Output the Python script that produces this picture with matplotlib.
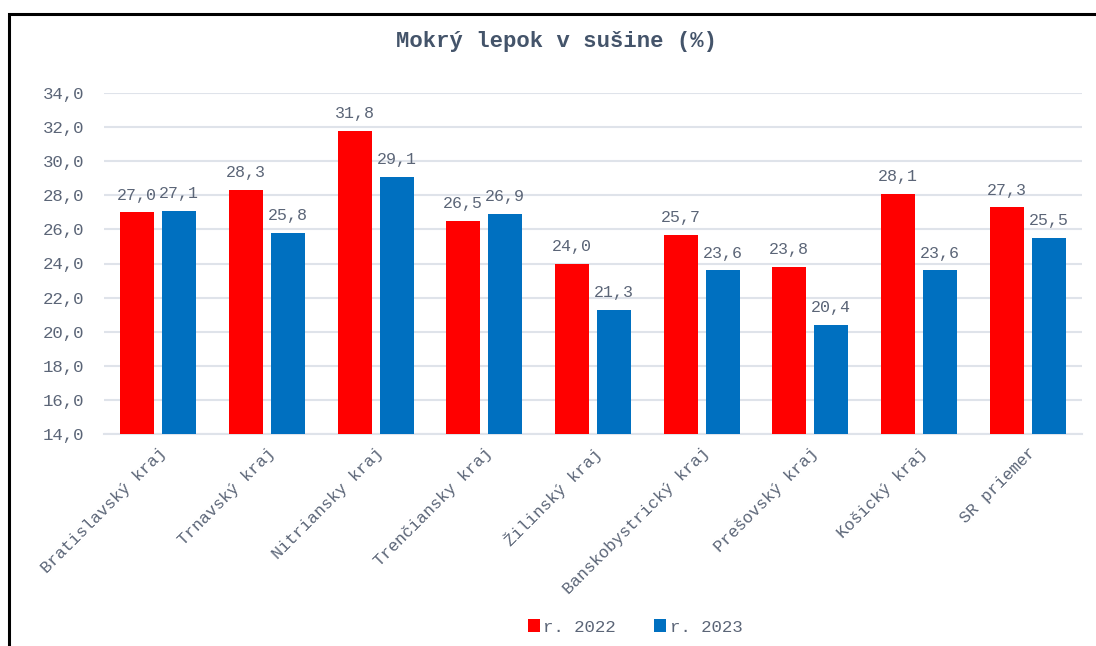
import matplotlib
matplotlib.use("Agg")
import matplotlib.pyplot as plt
import numpy as np
from matplotlib.lines import Line2D
from matplotlib.patches import Rectangle

categories = ["Bratislavský kraj", "Trnavský kraj", "Nitriansky kraj", "Trenčiansky kraj",
              "Žilinský kraj", "Banskobystrický kraj", "Prešovský kraj", "Košický kraj", "SR priemer"]
values_2022 = [27.0, 28.3, 31.8, 26.5, 24.0, 25.7, 23.8, 28.1, 27.3]
values_2023 = [27.1, 25.8, 29.1, 26.9, 21.3, 23.6, 20.4, 23.6, 25.5]
series_names = ["r. 2022", "r. 2023"]
yticks = [14, 16, 18, 20, 22, 24, 26, 28, 30, 32, 34]

FONT = ["Liberation Mono", "DejaVu Sans Mono"]
plt.rcParams['font.family'] = FONT
TXT = "#5b6577"
TITLE = "#44546a"
RED = "#ff0000"
BLUE = "#0070c0"

W, H = 1096, 646
fig = plt.figure(figsize=(W/100, H/100), dpi=100)
ax = fig.add_axes([104/W, (H-434)/H, (1082-104)/W, (434-93)/H])

x = np.arange(len(categories))
bw = 0.313
off = 0.193
b1 = ax.bar(x - off, values_2022, bw, color=RED, label=series_names[0], zorder=3)
b2 = ax.bar(x + off, values_2023, bw, color=BLUE, label=series_names[1], zorder=3)

for bars, vals in ((b1, values_2022), (b2, values_2023)):
    for r, v in zip(bars, vals):
        ax.annotate(f"{v:.1f}".replace(".", ","), (r.get_x() + r.get_width()/2, v),
                    xytext=(0, 7), textcoords="offset points", ha="center", va="bottom",
                    fontsize=12, color=TXT)

ax.set_xlim(-0.5, len(categories) - 0.5)
ax.set_ylim(14, 34)
ax.set_yticks(yticks)
ax.set_yticklabels([f"{t:.1f}".replace(".", ",") for t in yticks], fontsize=12.5, color=TXT)
ax.set_xticks(x)
ax.set_xticklabels(categories, rotation=45, ha="right", rotation_mode="anchor",
                   fontsize=12, color=TXT)
ax.tick_params(axis="both", length=0)
ax.tick_params(axis="y", pad=14)
ax.tick_params(axis="x", pad=8)
ax.grid(axis="y", color="#dfe3ea", linewidth=1.5, zorder=0)
for s in ["top", "right", "left"]:
    ax.spines[s].set_visible(False)
ax.spines["bottom"].set_color("#dfe3ea")
ax.spines["bottom"].set_linewidth(1.5)

fig.text(556/W, 1 - 42/H, "Mokrý lepok v sušine (%)", ha="center", va="center",
         fontsize=16, fontweight="bold", color=TITLE)

leg = fig.legend(handles=[b1, b2], labels=series_names, loc="center",
                 bbox_to_anchor=(635/W, 1 - 627/H), ncol=2, frameon=False,
                 fontsize=12.5, handlelength=0.7, handleheight=0.7, handletextpad=0.2,
                 columnspacing=2.2)
for t in leg.get_texts():
    t.set_color(TXT)

# outer frame (left and top edges)
fig.add_artist(Line2D([9/W, 9/W, 1.0], [0, 1 - 14/H, 1 - 14/H], transform=fig.transFigure,
                      color="black", linewidth=2.2, solid_joinstyle="miter"))

fig.savefig("out.png", dpi=100)
